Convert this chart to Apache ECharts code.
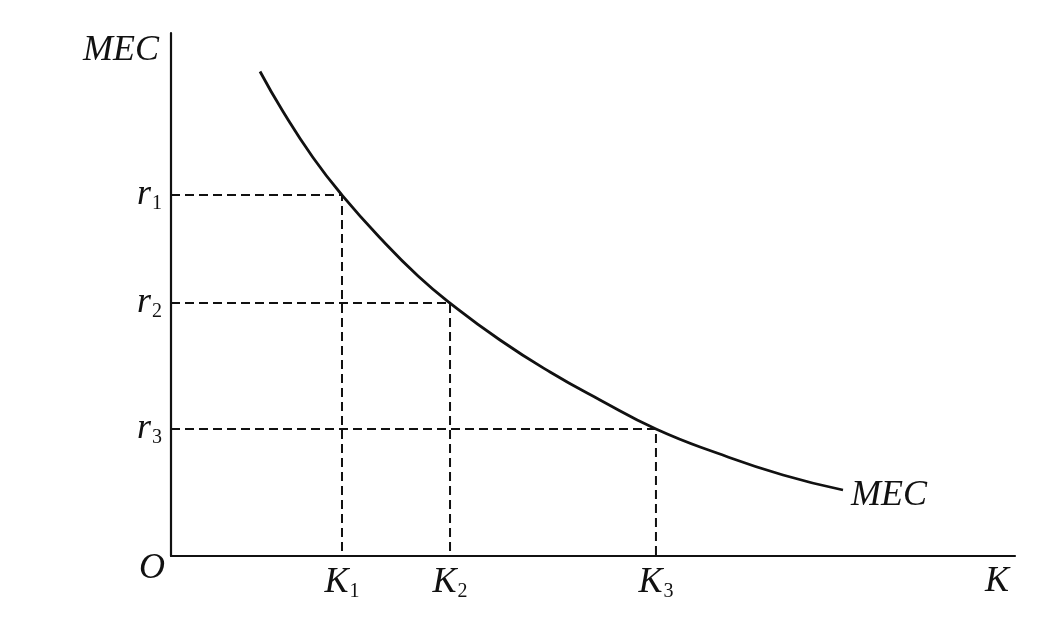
<!DOCTYPE html>
<html><head><meta charset="utf-8">
<script src="https://cdn.jsdelivr.net/npm/echarts@6/dist/echarts.min.js"></script>
<style>html,body{margin:0;padding:0;background:#fff}#c{width:1047px;height:625px}</style>
</head><body><div id="c"></div>
<script>
// Curve (MEC) points, in axis units (0..100)
const curveX = [10.55, 13.27, 16.82, 20.26, 25.12, 29.27, 33.06, 38.98, 44.91, 50.83, 57.46, 64.69, 72.51, 79.62];
const curveY = [92.64, 84.99, 76.20, 69.02, 60.23, 53.54, 48.37, 41.30, 35.18, 29.83, 24.28, 19.69, 15.49, 12.62];
// Marked capital stocks and rates
const kValues = [20.26, 33.06, 57.46];
const rValues = [69.02, 48.37, 24.28];
const kLabels = ['1', '2', '3'];
const rLabels = ['1', '2', '3'];
const xAxisName = 'K';
const yAxisName = 'MEC';
const curveName = 'MEC';
const originLabel = 'O';

const FONT = '"Liberation Serif", "DejaVu Serif", serif';
const INK = '#111';
const BIG = 36;

const curveData = curveX.map((x, i) => [x, curveY[i]]);

const dashSeries = kValues.map((k, i) => ({
  type: 'line',
  data: [[0, rValues[i]], [k, rValues[i]], [k, 0]],
  symbol: 'none',
  silent: true,
  lineStyle: { color: INK, width: 2, type: [9, 5] },
  z: 2
}));

const richX = {
  a: { fontFamily: FONT, fontStyle: 'italic', fontSize: BIG, color: INK },
  b: { fontFamily: FONT, fontSize: 20, color: INK, padding: [18, 0, 0, 1] }
};
const richY = {
  a: { fontFamily: FONT, fontStyle: 'italic', fontSize: BIG, color: INK },
  b: { fontFamily: FONT, fontSize: 20, color: INK, padding: [18, 3, 0, 1] },
  o: { fontFamily: FONT, fontStyle: 'italic', fontSize: BIG, color: INK, padding: [26, 0, 0, 0] }
};

const chart = echarts.init(document.getElementById('c'), null, { renderer: 'canvas' });
chart.setOption({
  animation: false,
  backgroundColor: '#fff',
  grid: { left: 171, right: 32, top: 33, bottom: 69, containLabel: false },
  xAxis: {
    type: 'value', min: 0, max: 100,
    name: xAxisName, nameLocation: 'end', nameGap: -18,
    nameTextStyle: { fontFamily: FONT, fontStyle: 'italic', fontSize: BIG, color: INK,
      align: 'center', verticalAlign: 'top', padding: [8, 0, 0, 0] },
    axisLine: { lineStyle: { color: INK, width: 2.2 } },
    axisTick: { show: false },
    splitLine: { show: false },
    axisLabel: {
      customValues: kValues,
      margin: 8,
      formatter: (v) => {
        const i = kValues.indexOf(v);
        return '{a|K}{b|' + (i >= 0 ? kLabels[i] : '') + '}';
      },
      rich: richX
    }
  },
  yAxis: {
    type: 'value', min: 0, max: 100,
    name: yAxisName, nameLocation: 'end', nameGap: 0,
    nameTextStyle: { fontFamily: FONT, fontStyle: 'italic', fontSize: BIG, color: INK,
      align: 'right', verticalAlign: 'top', padding: [0, 12, 0, 0] },
    axisLine: { lineStyle: { color: INK, width: 2.2 } },
    axisTick: { show: false },
    splitLine: { show: false },
    axisLabel: {
      customValues: [0].concat(rValues),
      margin: 6,
      formatter: (v) => {
        if (v === 0) return '{o|' + originLabel + '}';
        const i = rValues.indexOf(v);
        return '{a|r}{b|' + (i >= 0 ? rLabels[i] : '') + '}';
      },
      rich: richY
    }
  },
  series: [
    ...dashSeries,
    {
      type: 'line',
      name: curveName,
      data: curveData,
      smooth: 0.5,
      symbol: 'none',
      lineStyle: { color: INK, width: 2.8 },
      endLabel: {
        show: true, formatter: curveName, distance: 8, offset: [0, 6],
        fontFamily: FONT, fontStyle: 'italic', fontSize: BIG, color: INK
      },
      z: 3
    }
  ]
});
</script></body></html>
